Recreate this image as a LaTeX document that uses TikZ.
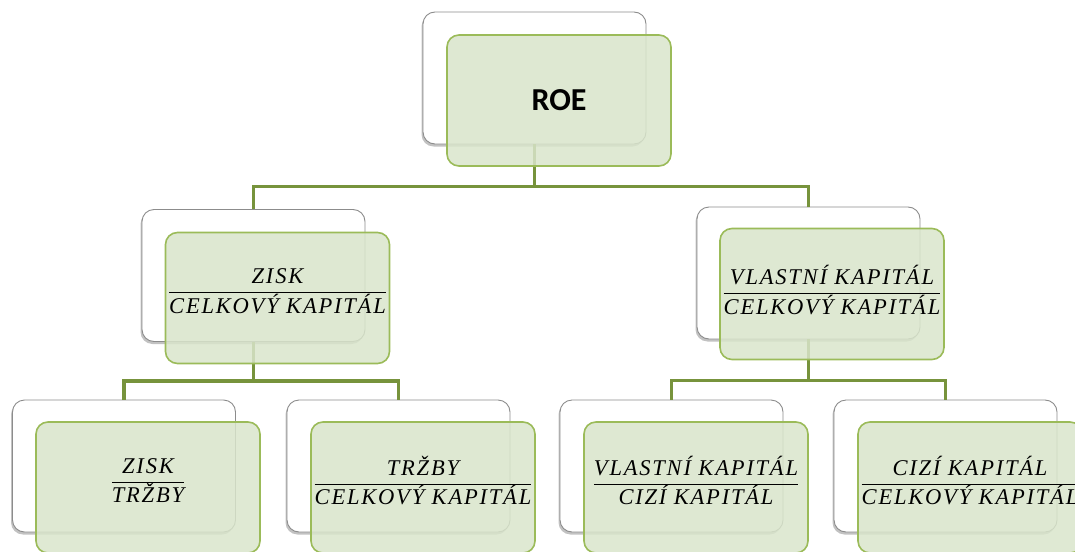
\documentclass[tikz,border=0pt]{standalone}
\usepackage{fontspec}
\setmainfont{Liberation Serif}
\newfontfamily\roefont{Carlito}
\newfontfamily\fracfont[LetterSpace=8]{Liberation Serif}
\usetikzlibrary{shadows}
\definecolor{busline}{HTML}{77933C}
\definecolor{greenedge}{HTML}{9BBB59}
\definecolor{greenfill}{HTML}{D9E5CB}
\definecolor{backedge}{HTML}{8C8C8C}
\newcommand\ratio[2]{$\displaystyle\frac{\hbox{\fracfont\itshape #1}}{\hbox{\fracfont\itshape #2}}$}
\tikzset{
  backbox/.style={draw=backedge, line width=0.9pt, fill=white, rounded corners=12pt,
    minimum width=223pt, minimum height=132pt, inner sep=0pt,
    drop shadow={shadow xshift=-1.5pt, shadow yshift=-2.5pt, opacity=0.4, fill=black!60}},
  frontbox/.style={draw=greenedge, line width=1.6pt, fill=greenfill, fill opacity=0.85,
    rounded corners=12pt, minimum width=224pt, minimum height=131pt, inner sep=0pt},
  ratiotext/.style={inner sep=0pt, yshift=7pt, font=\fontsize{22.5}{27}\selectfont},
  bus/.style={draw=busline, line width=3.2pt},
}
\begin{document}
\begin{tikzpicture}[x=1pt, y=-1pt]
\useasboundingbox (0,0) rectangle (1075,551);
\begin{scope}
\clip (0,0) rectangle (1075,551);
% back cards
\node[backbox] (rootw) at (534.5,78) {};
\node[backbox] (m1w) at (253.5,275.5) {};
\node[backbox] (m2w) at (808.5,273) {};
\node[backbox] (l1w) at (124,466) {};
\node[backbox] (l2w) at (398.5,466) {};
\node[backbox] (l3w) at (671.5,466) {};
\node[backbox] (l4w) at (945.5,466) {};
% connectors
\draw[bus] (rootw.south) -- ++(0,42) -| (m1w.north);
\draw[bus] (rootw.south) -- ++(0,42) -| (m2w.north);
\draw[bus] (m1w.south) -- ++(0,39) -| (l1w.north);
\draw[bus] (m1w.south) -- ++(0,39) -| (l2w.north);
\draw[bus] (m2w.south) -- ++(0,41) -| (l3w.north);
\draw[bus] (m2w.south) -- ++(0,41) -| (l4w.north);
% front cards
\node[frontbox, text opacity=1, font=\roefont\bfseries\fontsize{32}{36}\selectfont] (root) at (559,100.5) {ROE};
\node[frontbox] (m1) at (277.5,298) {};
\node[frontbox] (m2) at (832,294) {};
\node[frontbox] (l1) at (148,487.5) {};
\node[frontbox] (l2) at (423,487.5) {};
\node[frontbox] (l3) at (696,487.5) {};
\node[frontbox] (l4) at (970,487.5) {};
% ratios on the front cards
\node[ratiotext] (m1t) at (m1) {\ratio{ZISK}{CELKOVÝ KAPITÁL}};
\node[ratiotext, yshift=-3pt] (m2t) at (m2) {\ratio{VLASTNÍ KAPITÁL}{CELKOVÝ KAPITÁL}};
\node[ratiotext] (l1t) at (l1) {\ratio{ZISK}{TRŽBY}};
\node[ratiotext] (l2t) at (l2) {\ratio{TRŽBY}{CELKOVÝ KAPITÁL}};
\node[ratiotext] (l3t) at (l3) {\ratio{VLASTNÍ KAPITÁL}{CIZÍ KAPITÁL}};
\node[ratiotext] (l4t) at (l4) {\ratio{CIZÍ KAPITÁL}{CELKOVÝ KAPITÁL}};
\end{scope}
\end{tikzpicture}
\end{document}
